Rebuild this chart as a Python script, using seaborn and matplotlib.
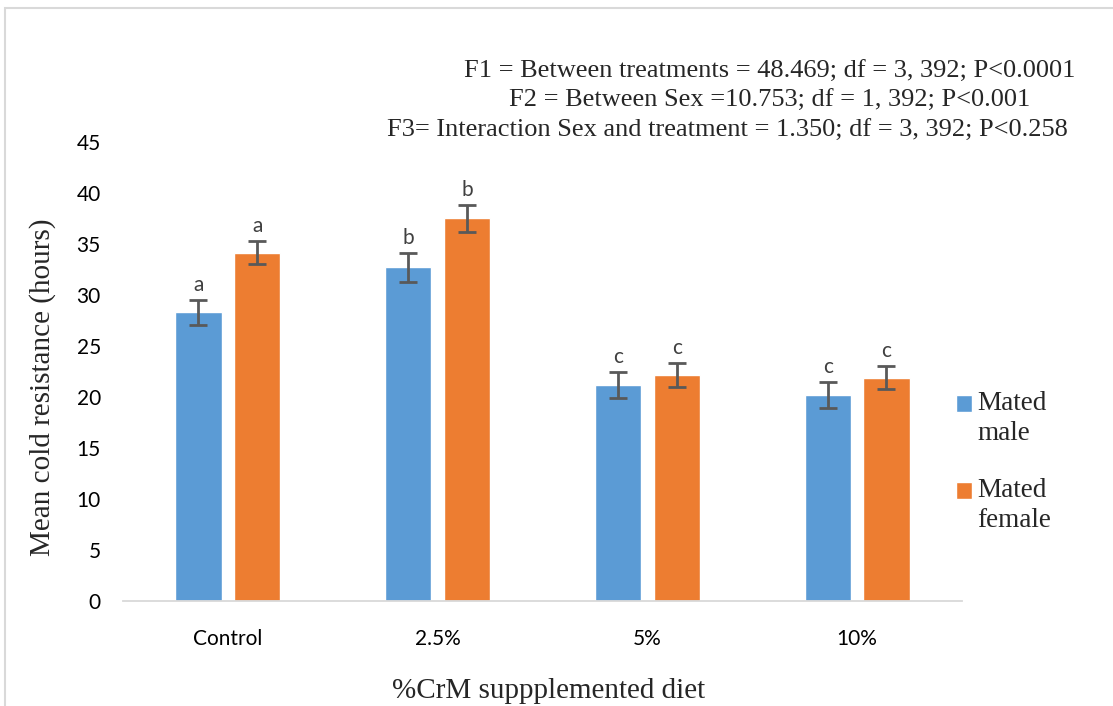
import numpy as np
import pandas as pd
import matplotlib
matplotlib.use("Agg")
import matplotlib.pyplot as plt
import seaborn as sns
from matplotlib.patches import Rectangle
from matplotlib.legend_handler import HandlerPatch

# data
diets = ["Control", "2.5%", "5%", "10%"]
sexes = ["Mated\nmale", "Mated\nfemale"]
male_mean = [28.3, 32.7, 21.2, 20.2]
female_mean = [34.15, 37.5, 22.15, 21.9]
male_err = [1.25, 1.45, 1.25, 1.25]
female_err = [1.1, 1.3, 1.15, 1.15]
male_letters = ["a", "b", "c", "c"]
female_letters = ["a", "b", "c", "c"]
stats_lines = [
    "F1 = Between treatments = 48.469; df = 3, 392; P<0.0001",
    "F2 = Between Sex =10.753; df = 1, 392; P<0.001",
    "F3= Interaction Sex and treatment = 1.350; df = 3, 392; P<0.258",
]

colors = ["#5B9BD5", "#ED7D31"]
serif = "Liberation Serif"
sans = "Lato"

df = pd.DataFrame({
    "diet": diets * 2,
    "sex": [sexes[0]] * 4 + [sexes[1]] * 4,
    "mean": male_mean + female_mean,
})

sns.set_style("white")
fig = plt.figure(figsize=(11.13, 7.06), dpi=100)
ax = fig.add_axes([0.1105, 0.1487, 0.7538, 0.6502])

sns.barplot(data=df, x="diet", y="mean", hue="sex", order=diets,
            hue_order=sexes, palette=colors, width=0.56, gap=0.21,
            errorbar=None, saturation=1, legend=True, ax=ax)

# error bars + letters on top of each bar
errs = [male_err, female_err]
letters = [male_letters, female_letters]
bar_groups = list(ax.containers)
for i, cont in enumerate(bar_groups):
    for j, bar in enumerate(cont):
        bx = bar.get_x() + bar.get_width() / 2
        by = bar.get_height()
        ax.errorbar(bx, by, yerr=errs[i][j], color="#595959", lw=2,
                    capsize=6.5, capthick=2)
        ax.annotate(letters[i][j], (bx, by + errs[i][j]), xytext=(0, 6.5),
                    textcoords="offset points", ha="center", va="baseline",
                    fontsize=15, color="#404040", family=sans)

ax.set_xlim(-0.5, 3.5)
ax.set_ylim(0, 45)
ax.set_yticks(range(0, 46, 5))
ax.tick_params(axis="y", length=0, pad=16, labelsize=15, labelcolor="#000000")
ax.tick_params(axis="x", length=0, pad=20, labelsize=15, labelcolor="#000000")
for lab in ax.get_xticklabels() + ax.get_yticklabels():
    lab.set_family(sans)
for s in ["top", "right", "left"]:
    ax.spines[s].set_visible(False)
ax.spines["bottom"].set_color("#d9d9d9")
ax.spines["bottom"].set_linewidth(1.3)

ax.set_xlabel("%CrM suppplemented diet", family=serif, fontsize=21)
ax.set_ylabel("Mean cold resistance (hours)", family=serif, fontsize=21)
ax.xaxis.set_label_coords(0.507, -0.168)
ax.yaxis.set_label_coords(-0.08, 0.465)


# legend square sits next to the first line of the label (like Excel)
def top_square(legend, orig_handle, xdescent, ydescent, width, height, fontsize):
    return Rectangle((-xdescent, -ydescent + 0.55 * fontsize), width, height)


leg = ax.legend(loc="upper left", bbox_to_anchor=(0.837, 0.48),
                bbox_transform=fig.transFigure, frameon=False,
                prop={"family": serif, "size": 19.5}, handlelength=0.6,
                handleheight=0.6, handletextpad=0.2, labelspacing=1.2,
                handler_map={Rectangle: HandlerPatch(patch_func=top_square)})
for t in leg.get_texts():
    t.set_linespacing(1.23)

# ANOVA summary
for k, yy in enumerate([72, 101]):
    fig.text(770 / 1113, 1 - yy / 706, stats_lines[k], ha="center",
             va="center", family=serif, fontsize=19)
fig.text(387 / 1113, 1 - 131 / 706, stats_lines[2], ha="left",
         va="center", family=serif, fontsize=19)

# chart-area border
fig.patches.append(Rectangle((5 / 1113, -0.1), 1.2, 1 - 8 / 706 + 0.1,
                             transform=fig.transFigure, fill=False,
                             edgecolor="#d9d9d9", lw=1.5))

fig.savefig("out.png", dpi=100)
